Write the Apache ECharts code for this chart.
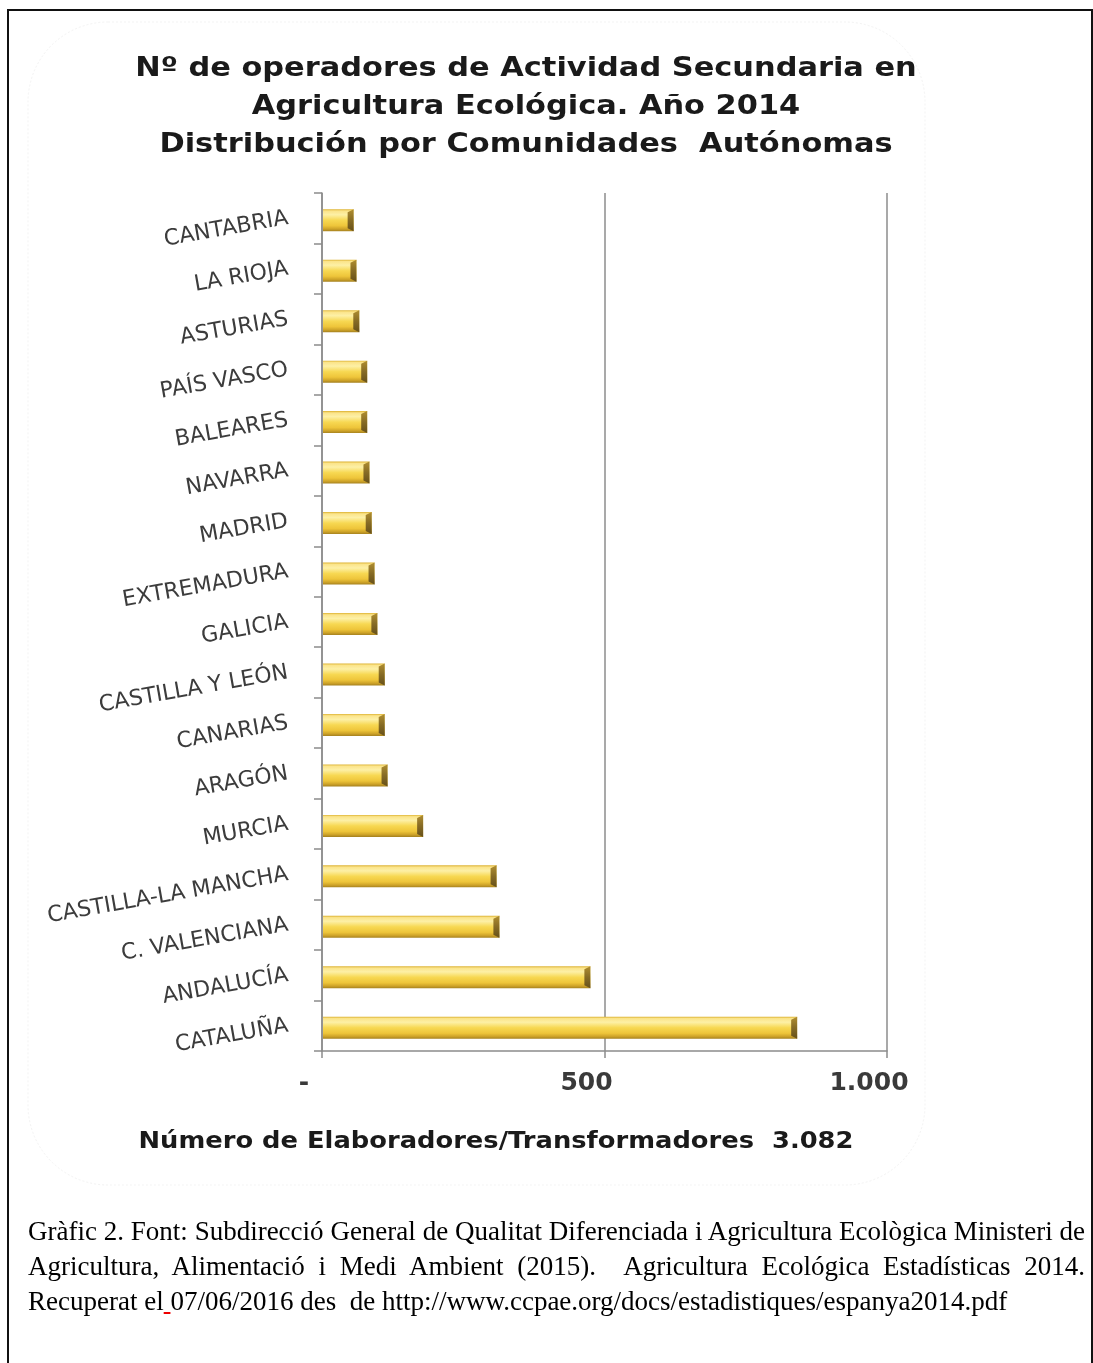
<!DOCTYPE html>
<html>
<head>
<meta charset="utf-8">
<script src="https://cdn.jsdelivr.net/npm/echarts@6/dist/echarts.min.js"></script>
<style>
  html, body { margin:0; padding:0; background:#fff; }
  #wrap { position:relative; width:1093px; height:1363px; overflow:hidden; }
  #chart { position:absolute; left:0; top:0; width:1093px; height:1363px; }
  #frame { position:absolute; left:7px; top:9px; width:1082px; height:1400px;
           border-left:2px solid #111; border-top:2px solid #111; border-right:2px solid #111; }
  #note { position:absolute; left:28px; top:1214px; width:1057px;
          font-family:"Liberation Serif","Times New Roman",serif; font-size:27px; line-height:35px; color:#000; }
  #note .j2 { text-align:justify; text-align-last:justify; white-space:nowrap; }
</style>
</head>
<body>
<div id="wrap">
  <div id="chart"></div>
  <div id="frame"></div>
  <div id="note">
    <div class="j2">Gràfic 2. Font: Subdirecció General de Qualitat Diferenciada i Agricultura Ecològica Ministeri de</div>
    <div class="j2">Agricultura, Alimentació i Medi Ambient (2015). &nbsp;Agricultura Ecológica Estadísticas 2014.</div>
    <div style="white-space:nowrap;">Recuperat el<span style="text-decoration:underline;text-decoration-color:#e00;"> </span>07/06/2016 des &nbsp;de http://www.ccpae.org/docs/estadistiques/espanya2014.pdf</div>
  </div>
</div>
<script>
const categories = ['CANTABRIA','LA RIOJA','ASTURIAS','PAÍS VASCO','BALEARES','NAVARRA','MADRID','EXTREMADURA','GALICIA','CASTILLA Y LEÓN','CANARIAS','ARAGÓN','MURCIA','CASTILLA-LA MANCHA','C. VALENCIANA','ANDALUCÍA','CATALUÑA'];
const values = [56,61,66,80,80,84,88,93,98,111,111,116,179,309,314,475,841];
const xTickLabels = {0:'-', 500:'500', 1000:'1.000'};
const titleLines = ['Nº de operadores de Actividad Secundaria en','Agricultura Ecológica. Año 2014','Distribución por Comunidades  Autónomas'];
const footerText = 'Número de Elaboradores/Transformadores  3.082';

const chart = echarts.init(document.getElementById('chart'), null, {renderer:'canvas'});
const axisGray = '#8c8c8c';

const bodyGrad = () => new echarts.graphic.LinearGradient(0,0,0,1,[
  {offset:0, color:'#dcb232'},
  {offset:0.08, color:'#fbe48a'},
  {offset:0.25, color:'#fdf0a6'},
  {offset:0.5, color:'#f7d852'},
  {offset:0.75, color:'#eec53a'},
  {offset:0.9, color:'#cda228'},
  {offset:1, color:'#a5811f'}
]);
const capGrad = () => new echarts.graphic.LinearGradient(0,0,0,1,[
  {offset:0, color:'#b08e30'},
  {offset:0.5, color:'#866b25'},
  {offset:1, color:'#66501a'}
]);

const titleGraphics = titleLines.map((t, i) => ({
  type:'text', x:526, y:69 + i*38, scaleX:1.17, silent:true,
  style:{text:t, x:0, y:0, align:'center', verticalAlign:'middle',
         font:'bold 26px "DejaVu Sans"', fill:'#1a1a1a'}
}));

const option = {
  backgroundColor:'#fff',
  animation:false,
  graphic:[{
    type:'rect', z:-10, silent:true,
    shape:{x:28, y:22, width:897, height:1163, r:80},
    style:{fill:'none', stroke:'#f3f3f3', lineWidth:1, lineDash:[2,2]}
  }].concat(titleGraphics, [{
    type:'text', x:496, y:1142, scaleX:1.12, silent:true,
    style:{text:footerText, x:0, y:0, align:'center', verticalAlign:'middle',
           font:'bold 23px "DejaVu Sans"', fill:'#1a1a1a'}
  }]),
  grid:{left:322, top:193, width:565, height:858, containLabel:false},
  xAxis:{
    type:'value', min:0, max:1000, interval:500,
    axisLine:{show:true, lineStyle:{color:axisGray, width:1.5}},
    axisTick:{show:true, length:7, lineStyle:{color:axisGray, width:1.5}},
    splitLine:{show:true, lineStyle:{color:axisGray, width:1.5}},
    axisLabel:{
      formatter:v => xTickLabels[v] !== undefined ? xTickLabels[v] : '',
      fontFamily:'DejaVu Sans', fontWeight:'bold', fontSize:25, color:'#3a3a3a',
      margin:20, padding:[0,36,0,0]
    }
  },
  yAxis:{
    type:'category', data:categories, inverse:true,
    axisLine:{show:true, lineStyle:{color:axisGray, width:1.5}},
    axisTick:{show:true, length:8, lineStyle:{color:axisGray, width:1.5}},
    splitLine:{show:false},
    axisLabel:{rotate:10, margin:34, fontFamily:'DejaVu Sans', fontSize:22, color:'#3c3c3c'}
  },
  series:[{
    type:'custom',
    encode:{x:0, y:1},
    data:values.map((v,i)=>[v, categories[i]]),
    renderItem:(params, api) => {
      const idx = api.value(1);
      const s = api.coord([0, idx]);
      const e = api.coord([api.value(0), idx]);
      const h = 22;
      const x0 = s[0] + 1, x1 = e[0];
      const yc = e[1] + 2;
      const y0 = yc - h/2, y1 = yc + h/2;
      return {type:'group', children:[
        {type:'rect', shape:{x:x0, y:y0, width:x1-x0, height:h}, style:{fill:bodyGrad()}},
        {type:'polygon', shape:{points:[[x1-6,y0+3],[x1,y0],[x1,y1],[x1-6,y1-3]]}, style:{fill:capGrad()}}
      ]};
    }
  }]
};
chart.setOption(option);
</script>
</body>
</html>
